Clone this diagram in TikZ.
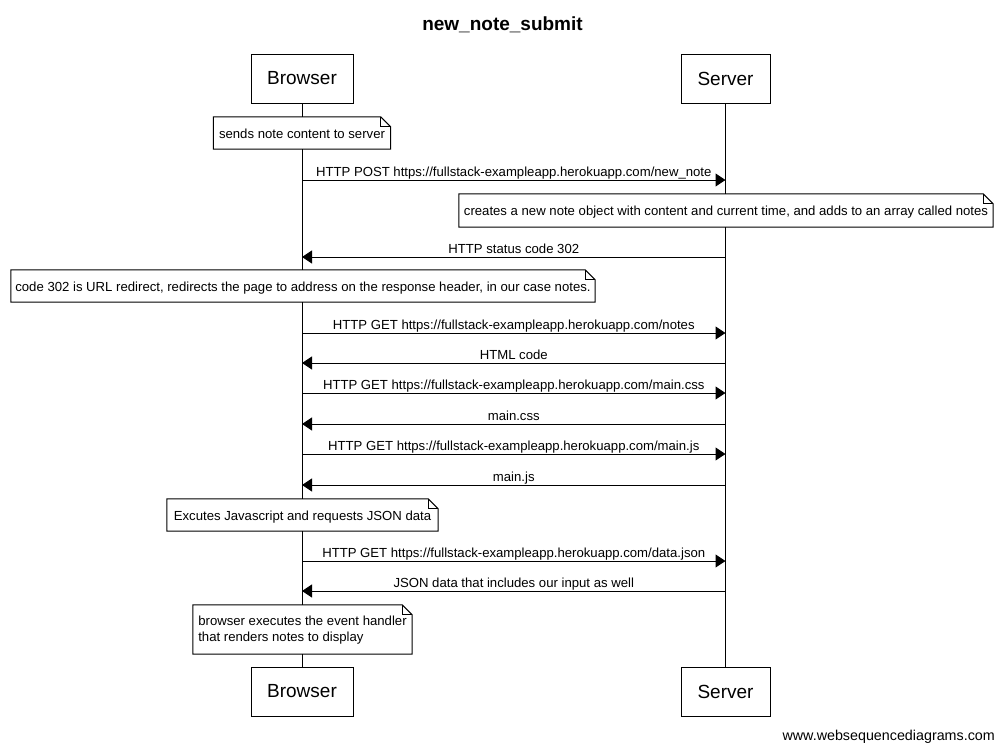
\documentclass[tikz,border=0pt]{standalone}
\usepackage{fontspec}
\setmainfont{Liberation Sans}
\usetikzlibrary{arrows.meta}
\newcommand\notefold[1]{%
  \draw[noteline] (#1.south west) -- (#1.north west) -- ([xshift=-10pt]#1.north east)
    -- ([yshift=-10pt]#1.north east) -- (#1.south east) -- cycle;
  \draw[noteline] ([xshift=-10pt]#1.north east) -- ([xshift=-10pt,yshift=-10pt]#1.north east)
    -- ([yshift=-10pt]#1.north east);}
\newcommand\notetxt[2][-2pt]{\raisebox{#1}[\height][\depth]{\begin{tabular}{@{}l@{}}#2\end{tabular}}}
\begin{document}
\begin{tikzpicture}[x=1pt,y=-1pt,
  actor/.style={draw, line width=1pt, fill=white, minimum height=49pt, inner sep=0pt,
    font=\fontsize{19}{22}\selectfont},
  life/.style={line width=1pt},
  msg/.style={line width=1pt, -{Triangle[length=10pt,width=13pt]}},
  lbl/.style={font=\fontsize{13.15}{15}\selectfont, anchor=south, inner sep=0.5pt, text depth=3pt},
  notebox/.style={fill=white, inner sep=0pt, font=\fontsize{13.15}{16}\selectfont},
  noteline/.style={line width=1pt, line join=miter},
  ttl/.style={font=\fontsize{19}{22}\selectfont\bfseries},
  foot/.style={font=\fontsize{14.3}{16}\selectfont, anchor=east, inner sep=0pt}
]
\useasboundingbox (0,0) rectangle (1003,750);
\fill[white] (0,0) rectangle (1003,750);

\node[ttl] (title) at (502.5,24.5) {new\_note\_submit};

\node[actor, minimum width=102pt] (bt) at (302,78.5) {Browser};
\node[actor, minimum width=89pt] (st) at (725.5,78.5) {Server};
\node[actor, minimum width=102pt] (bb) at (302,691.5) {Browser};
\node[actor, minimum width=89pt] (sb) at (725.5,691.5) {Server};

\draw[life] (bt.south) -- (bb.north);
\draw[life] (st.south) -- (sb.north);

% notes
\node[notebox, minimum width=177pt, minimum height=32pt] (n1) at (302,133) {\notetxt{sends note content to server}};
\notefold{n1}
\node[notebox, minimum width=534pt, minimum height=33pt] (n2) at (726,210.5) {\notetxt{creates a new note object with content and current time, and adds to an array called notes}};
\notefold{n2}
\node[notebox, minimum width=584pt, minimum height=32pt] (n3) at (303,286) {\notetxt{code 302 is URL redirect, redirects the page to address on the response header, in our case notes.}};
\notefold{n3}
\node[notebox, minimum width=271pt, minimum height=32pt] (n4) at (302.5,515) {\notetxt{Excutes Javascript and requests JSON data}};
\notefold{n4}
\node[notebox, minimum width=219pt, minimum height=49pt] (n5) at (302.5,629.5) {\notetxt[-0.5pt]{browser executes the event handler\\that renders notes to display}};
\notefold{n5}

% messages
\coordinate (m1) at (0,180);
\coordinate (m2) at (0,257);
\coordinate (m3) at (0,333);
\coordinate (m4) at (0,363);
\coordinate (m5) at (0,393);
\coordinate (m6) at (0,424);
\coordinate (m7) at (0,454);
\coordinate (m8) at (0,485);
\coordinate (m9) at (0,561);
\coordinate (m10) at (0,591);

\draw[msg] (bt |- m1) -- (st |- m1) node[lbl, midway] {HTTP POST https://fullstack-exampleapp.herokuapp.com/new\_note};
\draw[msg] (st |- m2) -- (bt |- m2) node[lbl, midway] {HTTP status code 302};
\draw[msg] (bt |- m3) -- (st |- m3) node[lbl, midway] {HTTP GET https://fullstack-exampleapp.herokuapp.com/notes};
\draw[msg] (st |- m4) -- (bt |- m4) node[lbl, midway] {HTML code};
\draw[msg] (bt |- m5) -- (st |- m5) node[lbl, midway] {HTTP GET https://fullstack-exampleapp.herokuapp.com/main.css};
\draw[msg] (st |- m6) -- (bt |- m6) node[lbl, midway] {main.css};
\draw[msg] (bt |- m7) -- (st |- m7) node[lbl, midway] {HTTP GET https://fullstack-exampleapp.herokuapp.com/main.js};
\draw[msg] (st |- m8) -- (bt |- m8) node[lbl, midway] {main.js};
\draw[msg] (bt |- m9) -- (st |- m9) node[lbl, midway] {HTTP GET https://fullstack-exampleapp.herokuapp.com/data.json};
\draw[msg] (st |- m10) -- (bt |- m10) node[lbl, midway] {JSON data that includes our input as well};

\node[foot] (footer) at (995,736.5) {www.websequencediagrams.com};
\end{tikzpicture}
\end{document}
